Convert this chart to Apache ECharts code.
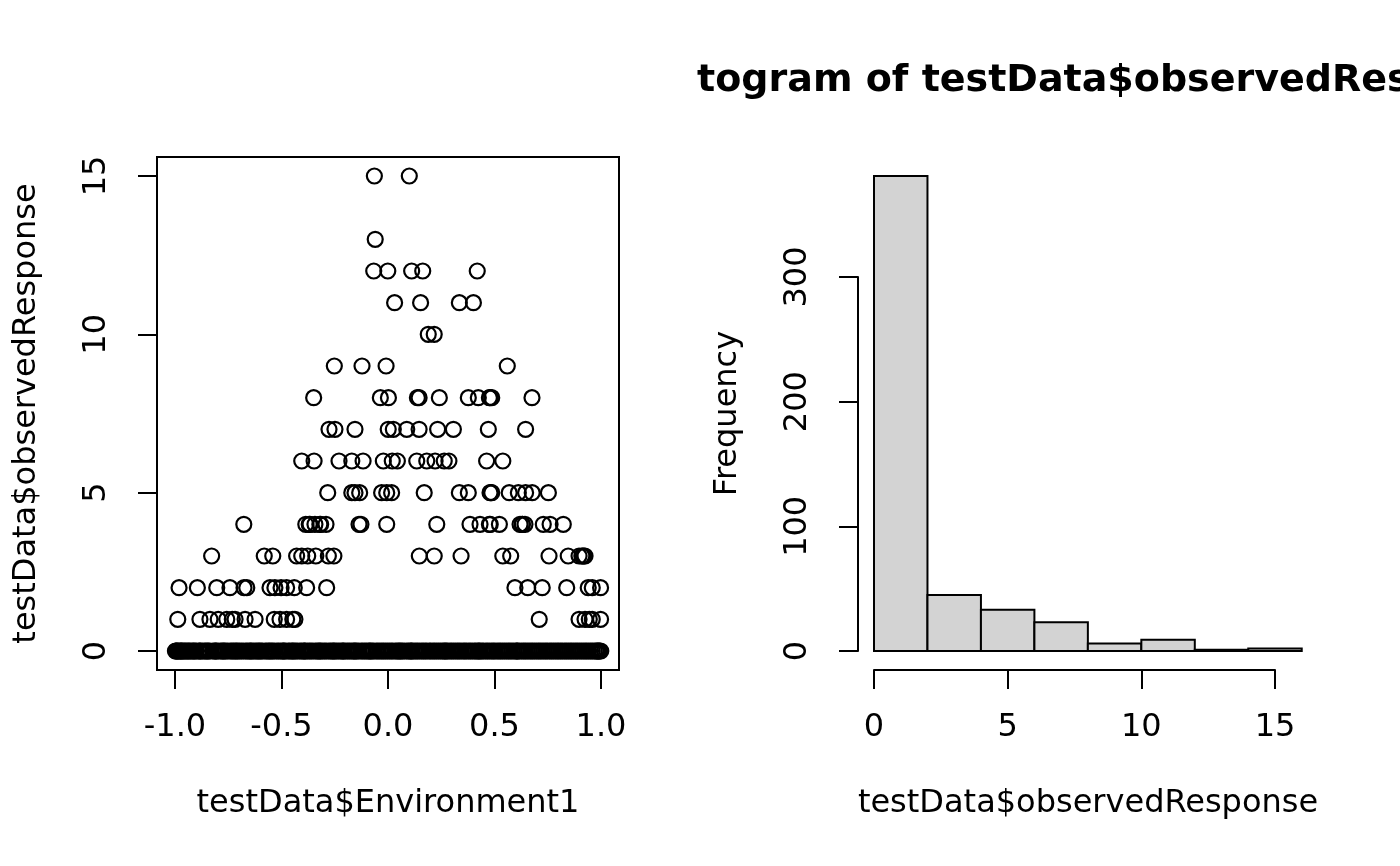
<!DOCTYPE html>
<html>
<head>
<meta charset="utf-8">
<title>testData</title>
<script src="https://cdn.jsdelivr.net/npm/echarts@6/dist/echarts.min.js"></script>
<style>
  html, body { margin: 0; padding: 0; background: #fff; }
  #main { width: 1400px; height: 866px; }
</style>
</head>
<body>
<div id="main"></div>
<script>
// scatter: x values (Environment1), one array per response level
var env0 = [
  -0.998, -0.995, -0.992, -0.987, -0.983, -0.976, -0.972, -0.969, -0.963, -0.957,
  -0.951, -0.944, -0.938, -0.932, -0.925, -0.917, -0.912, -0.906, -0.899, -0.888,
  -0.884, -0.879, -0.871, -0.862, -0.855, -0.849, -0.843, -0.836, -0.822, -0.814,
  -0.809, -0.806, -0.797, -0.786, -0.779, -0.773, -0.768, -0.761, -0.752, -0.741,
  -0.733, -0.726, -0.718, -0.712, -0.705, -0.697, -0.688, -0.679, -0.668, -0.661,
  -0.652, -0.646, -0.641, -0.633, -0.624, -0.616, -0.609, -0.603, -0.596, -0.589,
  -0.577, -0.569, -0.561, -0.555, -0.548, -0.541, -0.533, -0.522, -0.514, -0.505,
  -0.496, -0.491, -0.487, -0.479, -0.468, -0.461, -0.452, -0.447, -0.441, -0.433,
  -0.425, -0.414, -0.406, -0.397, -0.392, -0.388, -0.378, -0.369, -0.361, -0.352,
  -0.341, -0.333, -0.326, -0.320, -0.315, -0.306, -0.297, -0.289, -0.278, -0.270,
  -0.262, -0.256, -0.251, -0.243, -0.234, -0.225, -0.216, -0.211, -0.207, -0.198,
  -0.189, -0.181, -0.172, -0.163, -0.158, -0.152, -0.146, -0.137, -0.126, -0.118,
  -0.109, -0.101, -0.092, -0.086, -0.081, -0.074, -0.066, -0.055, -0.047, -0.038,
  -0.029, -0.021, -0.012, -0.003, 0.006, 0.015, 0.023, 0.034, 0.042, 0.049,
  0.055, 0.061, 0.068, 0.077, 0.088, 0.096, 0.104, 0.109, 0.113, 0.122,
  0.131, 0.139, 0.148, 0.158, 0.166, 0.175, 0.183, 0.194, 0.201, 0.211,
  0.219, 0.228, 0.237, 0.246, 0.255, 0.263, 0.268, 0.274, 0.281, 0.291,
  0.299, 0.308, 0.317, 0.326, 0.334, 0.343, 0.353, 0.361, 0.369, 0.379,
  0.387, 0.396, 0.406, 0.413, 0.422, 0.427, 0.432, 0.441, 0.448, 0.459,
  0.467, 0.476, 0.486, 0.494, 0.502, 0.512, 0.521, 0.529, 0.538, 0.547,
  0.556, 0.565, 0.573, 0.582, 0.591, 0.601, 0.605, 0.609, 0.617, 0.627,
  0.636, 0.644, 0.653, 0.662, 0.671, 0.679, 0.688, 0.697, 0.706, 0.714,
  0.723, 0.732, 0.741, 0.749, 0.759, 0.767, 0.776, 0.785, 0.794, 0.802,
  0.811, 0.819, 0.829, 0.837, 0.846, 0.855, 0.863, 0.872, 0.881, 0.889,
  0.898, 0.907, 0.916, 0.925, 0.933, 0.942, 0.951, 0.959, 0.968, 0.976,
  0.981, 0.985, 0.990, 0.993, 0.999
];
var env1 = [-0.987, -0.883, -0.836, -0.797, -0.757, -0.731, -0.718, -0.671, -0.624, -0.534,
  -0.507, -0.476, -0.447, -0.437, 0.710, 0.897, 0.925, 0.945, 0.959, 0.998];
var env2 = [-0.981, -0.895, -0.804, -0.742, -0.676, -0.663, -0.554, -0.531, -0.502, -0.476,
  -0.440, -0.382, -0.288, 0.596, 0.656, 0.724, 0.839, 0.940, 0.959, 0.998];
var env3 = [-0.828, -0.581, -0.541, -0.429, -0.405, -0.377, -0.339, -0.280, -0.254, 0.147,
  0.217, 0.343, 0.539, 0.576, 0.756, 0.846, 0.897, 0.910, 0.914, 0.920, 0.925];
var env4 = [-0.677, -0.386, -0.370, -0.366, -0.343, -0.320, -0.316, -0.291, -0.136, -0.127,
  -0.006, 0.229, 0.385, 0.432, 0.476, 0.480, 0.523, 0.620, 0.630, 0.631, 0.643, 0.729,
  0.761, 0.823];
var env5 = [-0.283, -0.170, -0.155, -0.133, -0.030, -0.006, 0.017, 0.170, 0.335, 0.377,
  0.479, 0.483, 0.487, 0.569, 0.612, 0.646, 0.677, 0.753];
var env6 = [-0.405, -0.347, -0.230, -0.170, -0.117, -0.022, 0.020, 0.044, 0.135, 0.182,
  0.221, 0.264, 0.286, 0.463, 0.539];
var env7 = [-0.277, -0.249, -0.155, 0.001, 0.025, 0.088, 0.146, 0.233, 0.307, 0.471, 0.646];
var env8 = [-0.349, -0.036, 0.002, 0.138, 0.146, 0.241, 0.377, 0.424, 0.476, 0.479, 0.487, 0.676];
var env9 = [-0.252, -0.122, -0.009, 0.560];
var env10 = [0.189, 0.217];
var env11 = [0.031, 0.153, 0.335, 0.401];
var env12 = [-0.067, -0.001, 0.111, 0.163, 0.419];
var env13 = [-0.060];
var env15 = [-0.064, 0.100];

// histogram of observedResponse
var breaks = [0, 2, 4, 6, 8, 10, 12, 14, 16];
var counts = [381, 45, 33, 23, 6, 9, 1, 2];

var levels = [
  [0, env0], [1, env1], [2, env2], [3, env3], [4, env4], [5, env5], [6, env6],
  [7, env7], [8, env8], [9, env9], [10, env10], [11, env11], [12, env12],
  [13, env13], [15, env15]
];

var scatterData = [];
for (var i = 0; i < levels.length; i++) {
  var xs = levels[i][1];
  for (var j = 0; j < xs.length; j++) {
    scatterData.push([xs[j], levels[i][0]]);
  }
}

var histData = [];
for (var k = 0; k < counts.length; k++) {
  histData.push([breaks[k], breaks[k + 1], counts[k]]);
}

var FONT = 'DejaVu Sans';
var FS = 32;
var LW = 2;
var labelStyle = { fontFamily: FONT, fontSize: FS, color: '#000' };

function shownAxis(extra) {
  var a = {
    type: 'value',
    axisLine: { show: true, onZero: false, lineStyle: { color: '#000', width: LW } },
    axisTick: { show: true, inside: false, length: 19, lineStyle: { color: '#000', width: LW } },
    axisLabel: { show: true, margin: 42, fontFamily: FONT, fontSize: FS, color: '#000' },
    splitLine: { show: false }
  };
  for (var key in extra) a[key] = extra[key];
  return a;
}

function nameAxis(extra) {
  var a = {
    type: 'value',
    min: 0, max: 1,
    axisLine: { show: false, onZero: false },
    axisTick: { show: false },
    axisLabel: { show: false },
    splitLine: { show: false },
    nameLocation: 'middle',
    nameTextStyle: labelStyle
  };
  for (var key in extra) a[key] = extra[key];
  return a;
}

var myChart = echarts.init(document.getElementById('main'));

var option = {
  animation: false,
  backgroundColor: '#fff',
  grid: [
    // 0: scatter data region (-1..1, 0..15)
    { left: 175, right: 799, top: 176, bottom: 215 },
    // 1: scatter box
    { left: 157, right: 781, top: 157, bottom: 196, show: true, borderColor: '#000', borderWidth: LW, backgroundColor: 'transparent' },
    // 2: histogram axes (0..15, 0..300)
    { left: 874, right: 125, top: 277, bottom: 215 },
    // 3: histogram plot region (for titles)
    { left: 857, right: 81, top: 157, bottom: 196 }
  ],
  xAxis: [
    shownAxis({ gridIndex: 0, min: -1, max: 1, interval: 0.5, offset: 19,
      axisLabel: { show: true, margin: 42, fontFamily: FONT, fontSize: FS, color: '#000',
        formatter: function (v) { return v.toFixed(1); } } }),
    nameAxis({ gridIndex: 1, name: 'testData$Environment1', nameGap: 118 }),
    shownAxis({ gridIndex: 2, min: 0, max: 15, interval: 5, offset: 19 }),
    nameAxis({ gridIndex: 3, name: 'testData$observedResponse', nameGap: 118 })
  ],
  yAxis: [
    shownAxis({ gridIndex: 0, min: 0, max: 15, interval: 5, offset: 18,
      axisLabel: { show: true, margin: 44, rotate: 90, fontFamily: FONT, fontSize: FS, color: '#000' } }),
    nameAxis({ gridIndex: 1, name: 'testData$observedResponse', nameGap: 114 }),
    shownAxis({ gridIndex: 2, min: 0, max: 300, interval: 100, offset: 16,
      axisLabel: { show: true, margin: 44, rotate: 90, fontFamily: FONT, fontSize: FS, color: '#000' } }),
    nameAxis({ gridIndex: 3, name: 'Frequency', nameGap: 113 })
  ],
  graphic: [
    {
      type: 'text', z: 10,
      x: 1084, y: 81,
      style: {
        text: 'Histogram of testData$observedResponse',
        align: 'center', verticalAlign: 'middle',
        font: 'bold 38px "DejaVu Sans"', fill: '#000'
      }
    },
    {
      // the title is clipped by the right-hand figure region, as in the original
      type: 'rect', z: 11,
      shape: { x: 0, y: 40, width: 697, height: 80 },
      style: { fill: '#fff' }
    }
  ],
  series: [
    {
      type: 'scatter',
      xAxisIndex: 0, yAxisIndex: 0,
      data: scatterData,
      symbol: 'circle',
      symbolSize: 15,
      clip: false,
      itemStyle: { color: 'rgba(0,0,0,0)', borderColor: '#000', borderWidth: 2.2, opacity: 1 },
      emphasis: { disabled: true }
    },
    {
      type: 'custom',
      xAxisIndex: 2, yAxisIndex: 2,
      data: histData,
      encode: { x: [0, 1], y: 2 },
      clip: false,
      renderItem: function (params, api) {
        var p0 = api.coord([api.value(0), 0]);
        var p1 = api.coord([api.value(1), api.value(2)]);
        return {
          type: 'rect',
          shape: { x: p0[0], y: p1[1], width: p1[0] - p0[0], height: p0[1] - p1[1] },
          style: { fill: '#d3d3d3', stroke: '#000', lineWidth: LW }
        };
      }
    }
  ]
};

myChart.setOption(option);
</script>
</body>
</html>
